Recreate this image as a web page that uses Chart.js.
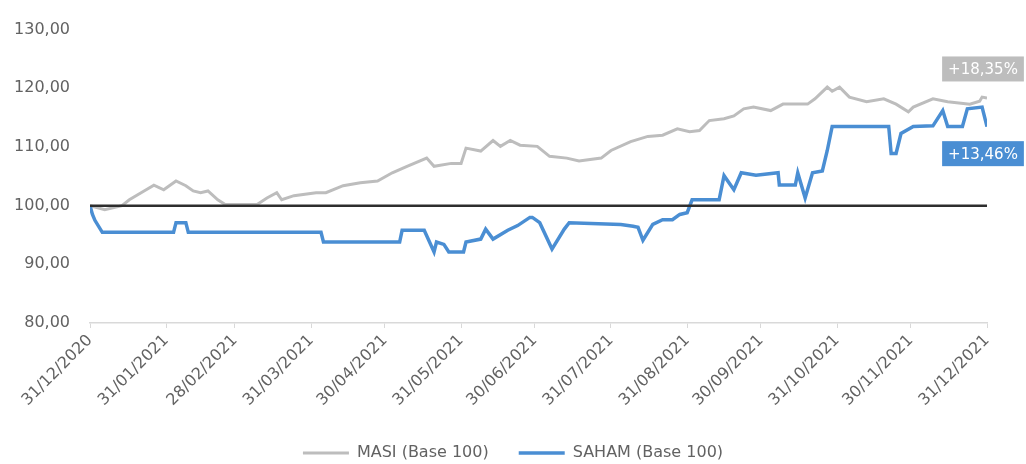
<!DOCTYPE html>
<html>
<head>
<meta charset="utf-8">
<script src="https://cdn.jsdelivr.net/npm/chart.js@4"></script>
<style>
html, body { margin: 0; padding: 0; background: #fff; }
</style>
</head>
<body>
<canvas id="chart" width="1026" height="464"></canvas>
<script>
// days counted from 31/12/2020
const masiDays = [0, 6, 13, 16, 22, 26, 30, 35, 39, 42, 45, 48, 52, 55, 68, 72, 76, 78, 83, 92, 96, 103, 110, 117, 123, 129, 137, 140, 147, 151, 153, 159, 164, 167, 171, 175, 182, 187, 194, 199, 208, 212, 220, 227, 233, 239, 244, 248, 252, 258, 262, 266, 270, 277, 282, 292, 295, 300, 302, 305, 309, 316, 323, 328, 333, 335, 343, 349, 358, 362, 363, 365];
const masiValues = [100, 99.3, 100, 101, 102.5, 103.5, 102.7, 104.2, 103.4, 102.5, 102.2, 102.5, 101, 100.2, 100.2, 101.3, 102.2, 101, 101.7, 102.2, 102.2, 103.4, 103.9, 104.2, 105.6, 106.7, 108.1, 106.7, 107.2, 107.2, 109.8, 109.3, 111.1, 110.1, 111.1, 110.3, 110.1, 108.4, 108.1, 107.6, 108.1, 109.4, 110.9, 111.8, 112, 113.1, 112.6, 112.8, 114.5, 114.8, 115.3, 116.5, 116.8, 116.2, 117.3, 117.3, 118.2, 120.2, 119.5, 120.2, 118.5, 117.7, 118.2, 117.3, 116, 116.8, 118.2, 117.7, 117.3, 117.8, 118.5, 118.35];

const sahamDays = [0, 1, 2, 5, 34, 35, 39, 40, 94, 95, 126, 127, 136, 140, 141, 144, 146, 152, 153, 159, 161, 164, 170, 174, 179, 180, 183, 188, 193, 195, 216, 221, 223, 225, 229, 233, 237, 240, 243, 245, 256, 258, 262, 265, 271, 280, 280.5, 287, 288, 291, 294, 298, 300, 302, 325, 326, 328, 330, 335, 343, 347, 349, 355, 357, 363, 365];
const sahamValues = [100, 98.5, 97.5, 95.45, 95.45, 97.1, 97.1, 95.45, 95.45, 93.8, 93.8, 95.8, 95.8, 92.1, 93.8, 93.4, 92.1, 92.1, 93.8, 94.3, 96, 94.3, 95.8, 96.6, 98, 98, 97.1, 92.6, 96, 97.1, 96.8, 96.5, 96.3, 94.1, 96.8, 97.6, 97.6, 98.5, 98.8, 101, 101, 105.1, 102.7, 105.6, 105.2, 105.6, 103.5, 103.5, 105.6, 101.3, 105.6, 105.9, 109.4, 113.5, 113.5, 108.9, 108.9, 112.3, 113.5, 113.6, 116.2, 113.5, 113.5, 116.5, 116.8, 113.46];

const baseDays = [0, 365];
const baseValues = [100, 100];

const tickDays = [0, 31, 59, 90, 120, 151, 181, 212, 243, 273, 304, 334, 365];
const tickLabels = ['31/12/2020', '31/01/2021', '28/02/2021', '31/03/2021', '30/04/2021', '31/05/2021',
  '30/06/2021', '31/07/2021', '31/08/2021', '30/09/2021', '31/10/2021', '30/11/2021', '31/12/2021'];

const seriesNames = ['MASI (Base 100)', 'SAHAM (Base 100)'];
const endLabels = ['+18,35%', '+13,46%'];

const grey = '#bdbdbd';
const blue = '#4a8ed3';
const textColor = '#626262';
const font = 'DejaVu Sans';

function toPoints(xs, ys) {
  return xs.map((x, i) => ({ x: x, y: ys[i] }));
}

const endLabelPlugin = {
  id: 'endLabels',
  afterDatasetsDraw(chart) {
    const ctx = chart.ctx;
    const offsets = [-29, 27];
    const colors = [grey, blue];
    ctx.save();
    ctx.font = '15px "' + font + '"';
    ctx.textAlign = 'center';
    ctx.textBaseline = 'middle';
    endLabels.forEach((text, i) => {
      const meta = chart.getDatasetMeta(i);
      const pt = meta.data[meta.data.length - 1];
      const w = ctx.measureText(text).width + 12;
      const h = 25;
      const cx = pt.x - 4;
      const cy = pt.y + offsets[i];
      ctx.fillStyle = colors[i];
      ctx.fillRect(cx - w / 2, cy - h / 2, w, h);
      ctx.fillStyle = '#ffffff';
      ctx.fillText(text, cx, cy + 1);
    });
    ctx.restore();
  }
};

const ctx = document.getElementById('chart').getContext('2d');

new Chart(ctx, {
  type: 'line',
  data: {
    datasets: [
      {
        label: seriesNames[0],
        data: toPoints(masiDays, masiValues),
        borderColor: grey,
        backgroundColor: grey,
        borderWidth: 3,
        pointRadius: 0,
        order: 2
      },
      {
        label: seriesNames[1],
        data: toPoints(sahamDays, sahamValues),
        borderColor: blue,
        backgroundColor: blue,
        borderWidth: 3.5,
        pointRadius: 0,
        order: 1
      },
      {
        label: 'base',
        data: toPoints(baseDays, baseValues),
        borderColor: '#2e2e2e',
        borderWidth: 2.5,
        pointRadius: 0,
        order: 0
      }
    ]
  },
  options: {
    responsive: false,
    animation: false,
    layout: {
      padding: { left: 0, right: 0, top: 18, bottom: -7 }
    },
    scales: {
      x: {
        type: 'linear',
        min: 0,
        max: 365,
        afterBuildTicks: (scale) => {
          scale.ticks = tickDays.map(d => ({ value: d }));
        },
        afterFit: (scale) => {
          const legend = scale.chart.legend;
          scale.height = 471 - 323 - (legend ? legend.height : 56);
        },
        grid: {
          display: true,
          drawOnChartArea: false,
          drawTicks: true,
          tickLength: 5,
          color: '#d9d9d9'
        },
        border: { display: true, color: '#d9d9d9', width: 1.5 },
        ticks: {
          autoSkip: false,
          minRotation: 45,
          maxRotation: 45,
          padding: 3,
          color: textColor,
          font: { family: font, size: 16 },
          callback: (value) => tickLabels[tickDays.indexOf(value)]
        }
      },
      y: {
        min: 80,
        max: 130,
        afterFit: (scale) => {
          scale.width = 90;
        },
        grid: { display: false, drawTicks: false },
        border: { display: false },
        ticks: {
          stepSize: 10,
          padding: 20,
          color: textColor,
          font: { family: font, size: 16 },
          callback: (value) => value.toFixed(2).replace('.', ',')
        }
      },
      right: {
        position: 'right',
        display: true,
        afterFit: (scale) => {
          scale.width = 39;
        },
        grid: { display: false, drawTicks: false },
        border: { display: false },
        ticks: { display: false }
      }
    },
    plugins: {
      legend: {
        position: 'bottom',
        labels: {
          usePointStyle: true,
          pointStyle: 'line',
          pointStyleWidth: 46,
          padding: 30,
          color: textColor,
          font: { family: font, size: 16 },
          filter: (item) => item.datasetIndex < 2,
          sort: (a, b) => a.datasetIndex - b.datasetIndex
        }
      },
      tooltip: { enabled: false }
    }
  },
  plugins: [endLabelPlugin]
});
</script>
</body>
</html>
